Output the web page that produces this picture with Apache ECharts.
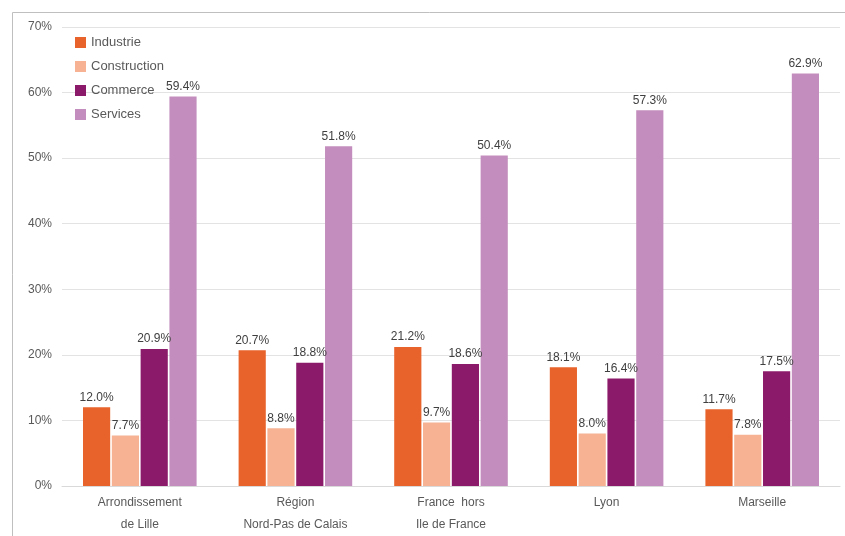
<!DOCTYPE html>
<html>
<head>
<meta charset="utf-8">
<script src="https://cdn.jsdelivr.net/npm/echarts@6/dist/echarts.min.js"></script>
<style>
  html, body { margin: 0; padding: 0; background: #ffffff; overflow: hidden; }
  #chart { width: 845px; height: 536px; }
</style>
</head>
<body>
<div id="chart"></div>
<script>
// Zones compared
const categories = [
  'Arrondissement\nde Lille',
  'Région\nNord-Pas de Calais',
  'France  hors\nIle de France',
  'Lyon',
  'Marseille'
];

// Share of employment by sector (%)
const industrie    = [12.0, 20.7, 21.2, 18.1, 11.7];
const construction = [7.7, 8.8, 9.7, 8.0, 7.8];
const commerce     = [20.9, 18.8, 18.6, 16.4, 17.5];
const services     = [59.4, 51.8, 50.4, 57.3, 62.9];

const seriesNames = ['Industrie', 'Construction', 'Commerce', 'Services'];
const seriesColors = ['#E8632B', '#F6B293', '#8C1A6A', '#C38EBD'];
const seriesData = [industrie, construction, commerce, services];

const yTicks = [0, 10, 20, 30, 40, 50, 60, 70];

const chart = echarts.init(document.getElementById('chart'), null, { renderer: 'canvas' });

const option = {
  backgroundColor: '#ffffff',
  animation: false,
  textStyle: { fontFamily: 'Liberation Sans, Arial, sans-serif' },
  graphic: [{
    type: 'rect',
    shape: { x: 12.5, y: 12.5, width: 840, height: 530 },
    style: { fill: 'none', stroke: '#bfbfbf', lineWidth: 1 },
    silent: true
  }],
  legend: {
    orient: 'vertical',
    left: 70,
    top: 31,
    itemWidth: 11,
    itemHeight: 11,
    itemGap: 11,
    icon: 'rect',
    textStyle: { color: '#595959', fontSize: 13 },
    data: seriesNames
  },
  grid: { left: 62, right: 5, top: 27, bottom: 41 },
  xAxis: {
    type: 'category',
    data: categories,
    axisLine: { show: true, lineStyle: { color: '#d9d9d9' } },
    axisTick: { show: false },
    axisLabel: { color: '#595959', fontSize: 12, lineHeight: 22, margin: 6 }
  },
  yAxis: {
    type: 'value',
    min: yTicks[0],
    max: yTicks[yTicks.length - 1],
    interval: 10,
    axisLine: { show: false },
    axisTick: { show: false },
    splitLine: { lineStyle: { color: '#e3e3e3', width: 1 } },
    axisLabel: { color: '#595959', fontSize: 12, margin: 10, formatter: v => v + '%' }
  },
  series: seriesData.map((data, i) => ({
    name: seriesNames[i],
    type: 'bar',
    data: data,
    barGap: '6%',
    barCategoryGap: '27%',
    itemStyle: { color: seriesColors[i] },
    label: {
      show: true,
      position: 'top',
      distance: 4,
      color: '#404040',
      fontSize: 12,
      formatter: p => p.value.toFixed(1) + '%'
    }
  }))
};

chart.setOption(option);
</script>
</body>
</html>
